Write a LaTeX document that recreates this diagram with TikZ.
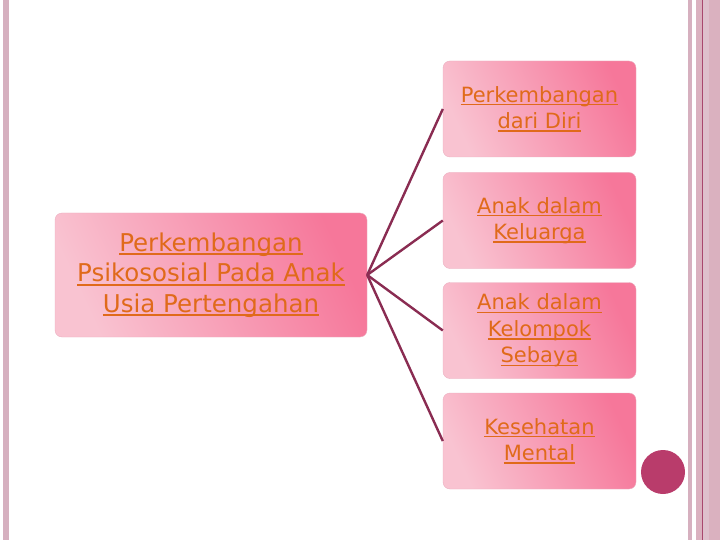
\documentclass[tikz,border=0pt]{standalone}
\usepackage{fontspec}
\setmainfont{DejaVu Sans}
\usetikzlibrary{positioning}
\definecolor{bingkai}{HTML}{D6B0BF}
\definecolor{bingkaigelap}{HTML}{A8486E}
\definecolor{kotakterang}{HTML}{F9C3D1}
\definecolor{kotakgelap}{HTML}{F6779A}
\definecolor{tepi}{HTML}{EBAFC0}
\definecolor{jingga}{HTML}{E06A1A}
\definecolor{garis}{HTML}{8A2C52}
\definecolor{bulat}{HTML}{B93C6B}
\newcommand\bawah[1]{\setbox0\hbox{#1}\rlap{\rule[-0.16em]{\wd0}{0.07em}}\box0}
\begin{document}
\begin{tikzpicture}[x=1pt,y=-1pt,
    kotak/.style={rounded corners=7pt, draw=tepi, left color=kotakterang,
      right color=kotakgelap, shading angle=115, text=jingga, align=center,
      inner sep=0pt},
    konektor/.style={garis, line width=2.4pt}]
      \useasboundingbox (0,0) rectangle (720,540);
      % tepi halaman
      \fill[bingkai] (3,0) rectangle (9,540);
      \fill[bingkai] (688,0) rectangle (692,540);
      \fill[bingkai!90!pink] (696,0) rectangle (720,540);
      \fill[bingkai!80!white] (703,0) rectangle (709,540);
      \draw[bingkaigelap,line width=0.7pt] (702,0) -- (702,540);

      \node[kotak, minimum width=312pt, minimum height=124pt,
        font=\fontsize{24.5}{30.5}\selectfont] (utama) at (211,275)
        {\bawah{Perkembangan}\\\bawah{Psikososial Pada Anak}\\
         \bawah{Usia Pertengahan}};

      \foreach \n/\y/\str in {1/109/{\bawah{Perkembangan}\\\bawah{dari Diri}},
                              2/220.5/{\bawah{Anak dalam}\\\bawah{Keluarga}},
                              3/330.5/{\bawah{Anak dalam}\\\bawah{Kelompok}\\\bawah{Sebaya}},
                              4/441/{\bawah{Kesehatan}\\\bawah{Mental}}}
      {\node[kotak, minimum width=193pt, minimum height=96pt,
          font=\fontsize{21}{26.5}\selectfont] (k\n) at (539.5,\y) {\str};
       \draw[konektor] (utama.east) -- (k\n.west);
      };

      \fill[bulat] (663,472) circle (22pt);
    \end{tikzpicture}
\end{document}
